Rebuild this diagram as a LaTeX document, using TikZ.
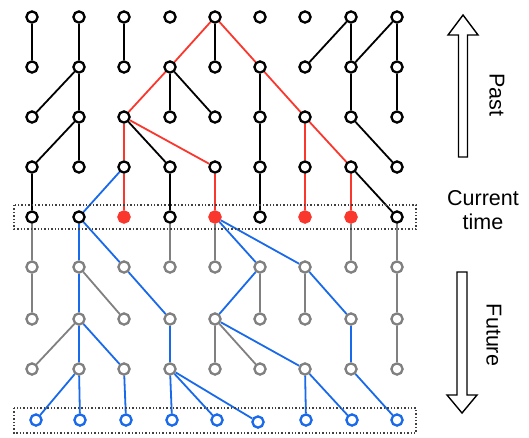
\documentclass[tikz,border=0pt]{standalone}
\usepackage{fontspec}
\setmainfont{Liberation Sans}
\definecolor{linkred}{RGB}{250,55,45}
\definecolor{linkblue}{RGB}{25,105,235}
\definecolor{linkgray}{RGB}{128,128,128}
\begin{document}
\begin{tikzpicture}[x=1pt,y=-1pt,
  vert/.style={circle,draw,fill=white,line width=2.3pt,minimum size=11.2pt,inner sep=0pt},
  pastnode/.style={vert,draw=black},
  nownode/.style={vert,draw=linkred,fill=linkred},
  futnode/.style={vert,draw=linkgray},
  endnode/.style={vert,draw=linkblue},
  link/.style={line width=1.8pt},
  pastlink/.style={link,draw=black},
  redlink/.style={link,draw=linkred},
  bluelink/.style={link,draw=linkblue},
  graylink/.style={link,draw=linkgray},
  dotbox/.style={draw=black!75,line width=1.4pt,dash pattern=on 1.4pt off 2pt},
  timearrow/.style={draw=black,line width=1.4pt,fill=white,line join=miter},
  label/.style={font=\fontsize{21.5}{24}\selectfont}]
\useasboundingbox (0,0) rectangle (529,437);

% vertices of the lineage grid
\foreach \c/\x in {0/32,1/79,2/124,3/170,4/215,5/260,6/305,7/351,8/397} {
  \foreach \r/\y in {0/17,1/67,2/117,3/167}
    \node[pastnode] (n\r-\c) at (\x,\y) {};
  \foreach \r/\y in {5/267,6/319,7/369}
    \node[futnode] (n\r-\c) at (\x,\y) {};
}
% present generation
\foreach \c/\x/\s in {0/32/pastnode,1/79/pastnode,2/124/nownode,3/170/pastnode,
  4/215/nownode,5/260/pastnode,6/305/nownode,7/351/nownode,8/397/pastnode}
  \node[\s] (n4-\c) at (\x,217) {};
% last generation
\foreach \c/\x/\y in {0/36/420,1/80/420,2/126/420,3/172/420,4/217/420,
  5/258/422,6/306/420,7/352/420,8/397/420}
  \node[endnode] (n8-\c) at (\x,\y) {};

% ancestry links
\foreach \a/\b in {0-0/1-0,0-1/1-1,0-2/1-2,0-4/1-4,0-7/1-6,0-7/1-7,0-8/1-7,0-8/1-8,
  1-1/2-0,1-1/2-1,1-3/2-3,1-3/2-4,1-5/2-5,1-7/2-7,1-8/2-8,
  2-1/3-0,2-1/3-1,2-2/3-3,2-5/3-5,2-7/3-8,
  3-0/4-0,3-3/4-3,3-5/4-5,3-7/4-8}
  \draw[pastlink] (n\a) -- (n\b);
\foreach \a/\b in {0-4/1-3,0-4/1-5,1-3/2-2,1-5/2-6,2-2/3-2,2-2/3-4,2-6/3-6,2-6/3-7,
  3-2/4-2,3-4/4-4,3-6/4-6,3-7/4-7}
  \draw[redlink] (n\a) -- (n\b);
\foreach \a/\b in {3-2/4-1,4-1/5-1,4-1/5-2,4-4/5-5,4-4/5-6,
  5-1/6-1,5-2/6-3,5-5/6-4,5-6/6-7,
  6-1/7-1,6-1/7-2,6-3/7-3,6-4/7-6,6-7/7-7,
  7-1/8-0,7-1/8-1,7-2/8-2,7-3/8-3,7-3/8-4,7-3/8-5,7-6/8-6,7-6/8-7,7-7/8-8}
  \draw[bluelink] (n\a) -- (n\b);
\foreach \a/\b in {4-0/5-0,4-3/5-3,4-4/5-4,4-7/5-7,4-8/5-8,
  5-0/6-0,5-1/6-2,5-5/6-5,5-6/6-6,5-8/6-8,
  6-1/7-0,6-4/7-4,6-4/7-5,6-8/7-8}
  \draw[graylink] (n\a) -- (n\b);

% frames around the present and the last generation
\draw[dotbox] (14,205) rectangle (416,229);
\draw[dotbox] (14,408) rectangle (416,433);

% time arrows and labels
\draw[timearrow] (458.5,157) -- (458.5,35) -- (448,35) -- (463,15) -- (478,35)
  -- (467.5,35) -- (467.5,157) -- cycle;
\draw[timearrow] (457,272) -- (457,395) -- (447,395) -- (462,413) -- (477,395)
  -- (467,395) -- (467,272) -- cycle;
\node[label,rotate=-90] (past) at (497,95) {Past};
\node[label,align=center] (now) at (483,210) {Current\\time};
\node[label,rotate=-90] (future) at (494,335) {Future};
\end{tikzpicture}
\end{document}
